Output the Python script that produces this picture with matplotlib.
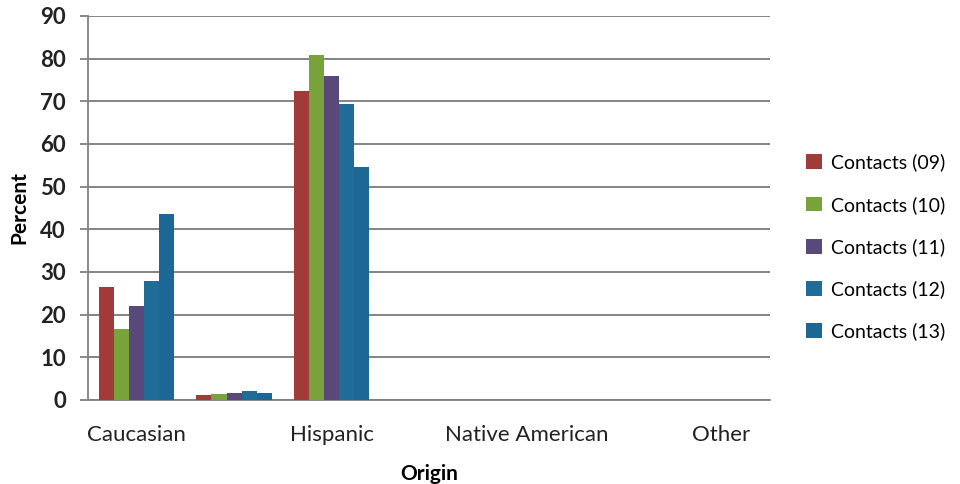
import matplotlib
matplotlib.use("Agg")
import matplotlib.pyplot as plt
import numpy as np
from matplotlib.patches import Patch

categories = ["Caucasian", "African American", "Hispanic", "Asian", "Native American", "Pacific Islander", "Other"]
shown_labels = ["Caucasian", "", "Hispanic", "", "Native American", "", "Other"]
series_names = ["Contacts (09)", "Contacts (10)", "Contacts (11)", "Contacts (12)", "Contacts (13)"]
c09 = [26.5, 1.2, 72.5, 0, 0, 0, 0]
c10 = [16.7, 1.5, 80.8, 0, 0, 0, 0]
c11 = [22.0, 1.6, 76.0, 0, 0, 0, 0]
c12 = [28.0, 2.0, 69.3, 0, 0, 0, 0]
c13 = [43.7, 1.6, 54.6, 0, 0, 0, 0]
series = [c09, c10, c11, c12, c13]
colors = ["#A03B3A", "#78A23A", "#58497A", "#1F6C98", "#1C6796"]
yticks = [0, 10, 20, 30, 40, 50, 60, 70, 80, 90]

plt.rcParams['font.family'] = ['Lato', 'DejaVu Sans']

fig = plt.figure(figsize=(9.6, 4.84), dpi=100)
ax = fig.add_axes([88/960, 1-400/484, (770-88)/960, (400-16)/484])

x = np.arange(len(categories))
bw = 0.155
for i, (vals, col, name) in enumerate(zip(series, colors, series_names)):
    ax.bar(x + (i - 2) * bw, vals, width=bw, color=col, label=name, zorder=3)

ax.set_xlim(-0.5, len(categories) - 0.5)
ax.set_ylim(0, 90)
ax.set_yticks(yticks)
ax.set_yticklabels([str(t) for t in yticks], fontsize=16, fontweight='bold', color='#222222')
ax.set_xticks(x)
ax.set_xticklabels(shown_labels, fontsize=16, color='#222222')
ax.tick_params(axis='x', length=0, pad=18)
ax.tick_params(axis='y', length=6, direction='out', color='#808080', width=1.3, pad=10)
ax.yaxis.grid(True, color='#7a7a7a', linewidth=1.3, zorder=0)
ax.set_axisbelow(True)
for s in ['top', 'right']:
    ax.spines[s].set_visible(False)
ax.spines['left'].set_color('#808080')
ax.spines['left'].set_linewidth(1.3)
ax.spines['bottom'].set_color('#808080')
ax.spines['bottom'].set_linewidth(1.3)

ax.set_ylabel("Percent", fontsize=15, fontweight='bold', labelpad=8)
ax.set_xlabel("Origin", fontsize=15, fontweight='bold', labelpad=14)

handles = [Patch(facecolor=c, edgecolor='none') for c in colors]
fig.legend(handles, series_names, loc='center left', bbox_to_anchor=(806/960, 1-247/484),
           frameon=False, fontsize=14, labelspacing=1.25, handlelength=0.8, handleheight=0.8,
           handletextpad=0.5, borderpad=0, borderaxespad=0)

fig.savefig("out.png", dpi=100)
